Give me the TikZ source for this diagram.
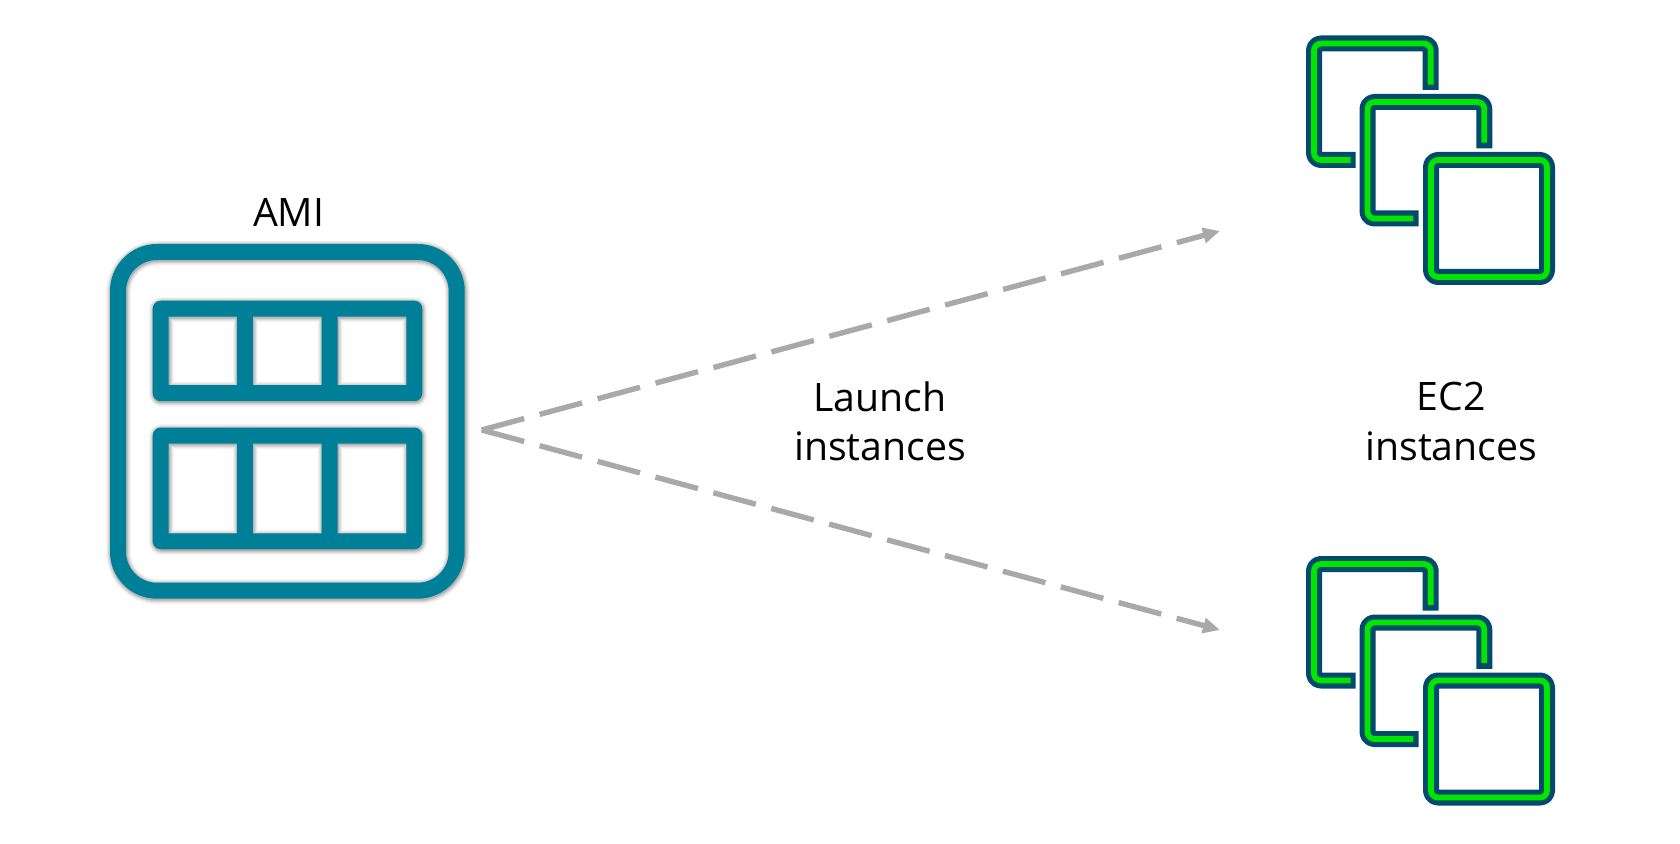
\documentclass[tikz,border=0pt]{standalone}
\usepackage{fontspec}
\setmainfont{Open Sans}
\usetikzlibrary{arrows.meta}
\definecolor{amiteal}{HTML}{007F98}
\definecolor{ecnavy}{HTML}{004B6B}
\definecolor{ecgreen}{HTML}{00E600}
\definecolor{flowgray}{HTML}{A9A9A9}
\tikzset{
  x=0.5pt,y=-0.5pt,
  amiband/.style={draw=amiteal,line width=8pt,line join=round},
  glowband/.style={draw=black,line join=round},
  labeltext/.style={font=\fontsize{19.6}{24.9}\selectfont,align=center,text=black,inner sep=0pt},
  flow/.style={draw=flowgray,line width=2.7pt,dash pattern=on 22pt off 8pt,
    -{Triangle[length=8.5pt,width=7.5pt,fill=flowgray]}},
  navyline/.style={draw=ecnavy,line width=8pt,line join=round,rounded corners=3.5pt},
  greenline/.style={draw=ecgreen,line width=2.9pt,line join=round,rounded corners=3.5pt},
}
\newcommand{\amishape}{%
  (118,291) arc[start angle=180,end angle=270,radius=39] -- (417.7,252) arc[start angle=270,end angle=360,radius=39] -- (456.7,551.7) arc[start angle=0,end angle=90,radius=39] -- (157,590.7) arc[start angle=90,end angle=180,radius=39] -- cycle
  (160.7,308.7) rectangle (414.3,393.2)
  (244.85,308.7) -- (244.85,393.2)
  (329.5,308.7) -- (329.5,393.2)
  (160.7,435.5) rectangle (414.3,541.3)
  (244.85,435.5) -- (244.85,541.3)
  (329.5,435.5) -- (329.5,541.3)}
\newcommand{\stackicon}[1]{%
  \begin{scope}[yshift=#1]
    \draw[navyline] (1355.7,160) -- (1314,160) -- (1314,43.5) -- (1430.7,43.5) -- (1430.7,90);
    \draw[greenline] (1350.7,160) -- (1314,160) -- (1314,43.5) -- (1430.7,43.5) -- (1430.7,84.7);
    \draw[navyline] (1418.7,218.5) -- (1367.5,218.5) -- (1367.5,102) -- (1484.3,102) -- (1484.3,148.3);
    \draw[greenline] (1413.3,218.5) -- (1367.5,218.5) -- (1367.5,102) -- (1484.3,102) -- (1484.3,142.7);
    \draw[navyline] (1431,160) rectangle (1547,277);
    \draw[greenline] (1431,160) rectangle (1547,277);
  \end{scope}}
\begin{document}
\begin{tikzpicture}
\useasboundingbox (0,0) rectangle (1680,844);
% soft glow behind the AMI icon
\begin{scope}[xshift=0.3pt,yshift=-0.5pt]
\foreach \w/\o in {12.5/0.04,11.5/0.05,10.5/0.07,9.5/0.08,8.7/0.10}{
  \draw[glowband,line width=\w pt,draw opacity=\o] \amishape;
}
\end{scope}
\draw[amiband] \amishape;
\node[labeltext,anchor=base] (amilabel) at (288.7,227) {AMI};
\node[labeltext] (launch) at (880,421.2) {Launch\\instances};
\node[labeltext] (ec2) at (1451.3,421.2) {EC2\\instances};
\stackicon{0pt}
\stackicon{-260.25pt}
\coordinate (src) at (481.7,430);
\coordinate (tgtA) at (1220,231);
\coordinate (tgtB) at (1220,630);
\draw[flow] (src) -- (tgtA);
\draw[flow] (src) -- (tgtB);
\end{tikzpicture}
\end{document}
